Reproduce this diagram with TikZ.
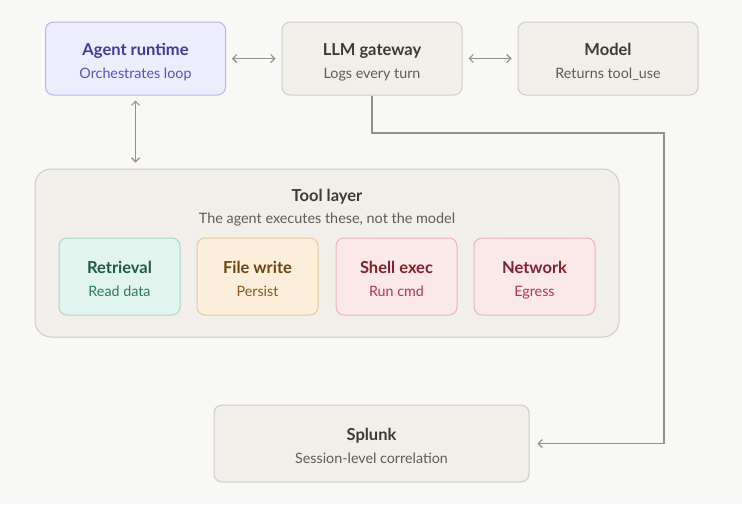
\documentclass[tikz,border=0pt]{standalone}
\usepackage{fontspec}
\setmainfont{Lato}
\usepackage{xcolor}
\definecolor{PageBg}{HTML}{F8F8F7}
\definecolor{StoneFill}{HTML}{F2EFEA}
\definecolor{StoneLine}{HTML}{CFCBC4}
\definecolor{StoneText}{HTML}{3D3A36}
\definecolor{StoneSub}{HTML}{5E5A55}
\definecolor{AgentFill}{HTML}{EEEDFD}
\definecolor{AgentLine}{HTML}{B9B4F0}
\definecolor{AgentText}{HTML}{43389E}
\definecolor{AgentSub}{HTML}{5A4FC4}
\definecolor{RetFill}{HTML}{E2F4EE}
\definecolor{RetLine}{HTML}{A8D7C7}
\definecolor{RetText}{HTML}{1C5C47}
\definecolor{RetSub}{HTML}{2A7A5E}
\definecolor{FileFill}{HTML}{FBEEDB}
\definecolor{FileLine}{HTML}{E2C79E}
\definecolor{FileText}{HTML}{6B4512}
\definecolor{FileSub}{HTML}{8A5A1C}
\definecolor{RiskFill}{HTML}{FBE9EA}
\definecolor{RiskLine}{HTML}{E8B4B8}
\definecolor{RiskText}{HTML}{85202D}
\definecolor{RiskSub}{HTML}{B03645}
\definecolor{ArrGray}{HTML}{94908A}
\usetikzlibrary{arrows.meta, positioning}

\begin{document}
\begin{tikzpicture}[x=1pt, y=-1pt,
    box/.style={rounded corners=8pt, minimum width=180pt, minimum height=73pt,
                align=center, draw, line width=1pt, inner sep=4pt},
    toolbox/.style={box, minimum width=121pt, minimum height=77pt},
    arr/.style={{Straight Barb[length=4pt,width=8pt]}-{Straight Barb[length=4pt,width=8pt]},
                line width=1.1pt, ArrGray}
  ]
    \useasboundingbox[fill=PageBg] (0,0) rectangle (742,504);

    % Top row
    \node[box, fill=AgentFill, draw=AgentLine] (agent) at (135.5, 58.5)
      {{\fontsize{16.5}{24}\selectfont\bfseries\color{AgentText}\rule{0pt}{22pt}\strut Agent runtime}\\[3pt]
       {\fontsize{14.3}{16}\selectfont\color{AgentSub}\strut Orchestrates loop}};

    \node[box, fill=StoneFill, draw=StoneLine] (gw) at (372, 58.5)
      {{\fontsize{16.5}{24}\selectfont\bfseries\color{StoneText}\rule{0pt}{22pt}\strut LLM gateway}\\[3pt]
       {\fontsize{14.3}{16}\selectfont\color{StoneSub}\strut Logs every turn}};

    \node[box, fill=StoneFill, draw=StoneLine] (model) at (608, 58.5)
      {{\fontsize{16.5}{24}\selectfont\bfseries\color{StoneText}\rule{0pt}{22pt}\strut Model}\\[3pt]
       {\fontsize{14.3}{16}\selectfont\color{StoneSub}\strut Returns tool\_use}};

    \draw[arr, shorten <=6pt, shorten >=6pt] (agent) -- (gw);
    \draw[arr, shorten <=6pt, shorten >=6pt] (gw) -- (model);

    % Tool layer
    \node[box, fill=StoneFill, draw=StoneLine, rounded corners=16pt,
          minimum width=584pt, minimum height=168pt] (tools) at (327, 253) {};
    \node[font=\fontsize{16.5}{18}\selectfont\bfseries, text=StoneText] (tooltitle) at (327, 197)
      {Tool layer};
    \node[font=\fontsize{14.4}{16}\selectfont, text=StoneSub, below=1.5pt of tooltitle] (toolsub)
      {The agent executes these, not the model};

    \draw[arr, shorten <=5pt, shorten >=6pt] (agent) -- (agent |- tools.north);

    \node[toolbox, fill=RetFill, draw=RetLine] (ret) at (119.5, 276.5)
      {{\fontsize{16.5}{24}\selectfont\bfseries\color{RetText}\rule{0pt}{22pt}\strut Retrieval}\\[3pt]
       {\fontsize{14.3}{16}\selectfont\color{RetSub}\strut Read data}};

    \node[toolbox, fill=FileFill, draw=FileLine] (file) at (257.5, 276.5)
      {{\fontsize{16.5}{24}\selectfont\bfseries\color{FileText}\rule{0pt}{22pt}\strut File write}\\[3pt]
       {\fontsize{14.3}{16}\selectfont\color{FileSub}\strut Persist}};

    \node[toolbox, fill=RiskFill, draw=RiskLine] (shell) at (396.5, 276.5)
      {{\fontsize{16.5}{24}\selectfont\bfseries\color{RiskText}\rule{0pt}{22pt}\strut Shell exec}\\[3pt]
       {\fontsize{14.3}{16}\selectfont\color{RiskSub}\strut Run cmd}};

    \node[toolbox, fill=RiskFill, draw=RiskLine] (net) at (534.5, 276.5)
      {{\fontsize{16.5}{24}\selectfont\bfseries\color{RiskText}\rule{0pt}{22pt}\strut Network}\\[3pt]
       {\fontsize{14.3}{16}\selectfont\color{RiskSub}\strut Egress}};

    % Splunk
    \node[box, fill=StoneFill, draw=StoneLine, minimum width=315pt, minimum height=77pt]
      (splunk) at (371.5, 443.5)
      {{\fontsize{16.5}{24}\selectfont\bfseries\color{StoneText}\rule{0pt}{22pt}\strut Splunk}\\[3pt]
       {\fontsize{14.3}{16}\selectfont\color{StoneSub}\strut Session-level correlation}};

    \coordinate (bend) at (664, 133);
    \draw[-{Straight Barb[length=4pt,width=8pt]}, line width=1.1pt, ArrGray, shorten >=8pt]
      (gw.south) |- (bend) |- (splunk.east);
  \end{tikzpicture}
\end{document}
